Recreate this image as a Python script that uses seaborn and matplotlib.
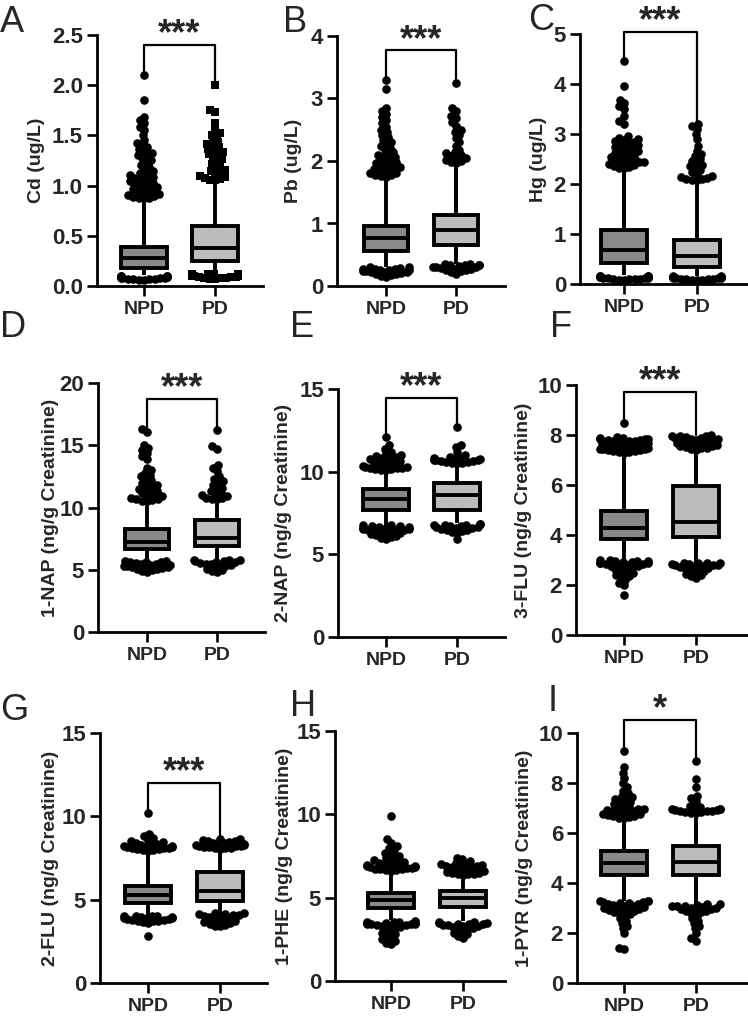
import warnings
import numpy as np
import pandas as pd
import matplotlib
matplotlib.use("Agg")
import matplotlib.pyplot as plt
import seaborn as sns

warnings.filterwarnings("ignore")

sns.set_theme(style="ticks")
plt.rcParams['font.family'] = ['Liberation Sans', 'DejaVu Sans']

GROUPS = ['NPD', 'PD']
letters = ['A', 'B', 'C', 'D', 'E', 'F', 'G', 'H', 'I']
ylabels = ['Cd (ug/L)', 'Pb (ug/L)', 'Hg (ug/L)',
           '1-NAP (ng/g Creatinine)', '2-NAP (ng/g Creatinine)', '3-FLU (ng/g Creatinine)',
           '2-FLU (ng/g Creatinine)', '1-PHE (ng/g Creatinine)', '1-PYR (ng/g Creatinine)']
y_tops = [2.5, 4, 5, 20, 15, 10, 15, 15, 10]
y_steps = [0.5, 1, 1, 5, 5, 2, 5, 5, 2]
stars = ['***', '***', '***', '***', '***', '***', '***', '', '*']
bracket_y = [2.40, 3.77, 5.04, 18.7, 14.46, 9.73, 12.0, None, 10.53]

# box stats: whisker low, q1, median, q3, whisker high
cd_npd_box = [0.11, 0.18, 0.28, 0.385, 0.875]
cd_pd_box = [0.15, 0.25, 0.375, 0.60, 1.06]
pb_npd_box = [0.31, 0.565, 0.76, 0.96, 1.75]
pb_pd_box = [0.36, 0.66, 0.90, 1.14, 1.97]
hg_npd_box = [0.18, 0.43, 0.69, 1.08, 2.30]
hg_pd_box = [0.17, 0.35, 0.56, 0.88, 2.06]
nap1_npd_box = [5.76, 6.64, 7.23, 8.30, 10.55]
nap1_pd_box = [5.80, 6.88, 7.58, 8.97, 10.70]
nap2_npd_box = [6.80, 7.70, 8.35, 8.95, 10.10]
nap2_pd_box = [6.90, 7.70, 8.61, 9.31, 10.50]
flu3_npd_box = [3.00, 3.84, 4.27, 4.96, 7.27]
flu3_pd_box = [2.90, 3.91, 4.53, 5.96, 7.40]
flu2_npd_box = [4.10, 4.80, 5.26, 5.84, 7.90]
flu2_pd_box = [4.10, 4.90, 5.50, 6.66, 8.00]
phe_npd_box = [3.64, 4.40, 4.88, 5.30, 6.60]
phe_pd_box = [3.60, 4.44, 4.98, 5.40, 6.30]
pyr_npd_box = [3.30, 4.31, 4.80, 5.27, 6.57]
pyr_pd_box = [3.20, 4.31, 4.83, 5.47, 6.80]

# points outside the whiskers (denser where the blobs are thick)
cd_npd_out = [2.10, 1.85, 1.68, 1.65, 1.62, 1.58, 1.55, 1.50, 1.45, 1.42, 1.40, 1.38, 1.36, 1.34,
              1.32, 1.30, 1.29, 1.27, 1.25, 1.23, 1.21, 1.19, 1.17, 1.15, 1.13, 1.12, 1.11, 1.10,
              1.09, 1.08, 1.07, 1.06, 1.05, 1.04, 1.03, 1.02, 1.01, 1.00, 0.99, 0.98, 0.97, 0.96,
              0.95, 0.94, 0.93, 0.92, 0.91, 0.90, 0.89, 0.88, 0.88, 0.88,
              0.10, 0.10, 0.095, 0.095, 0.09, 0.09, 0.085, 0.085, 0.08, 0.08, 0.075, 0.075, 0.07,
              0.07, 0.065, 0.065, 0.06, 0.06]
cd_pd_out = [2.00, 1.75, 1.73, 1.62, 1.55, 1.52, 1.50, 1.48, 1.45, 1.43, 1.41, 1.40, 1.38, 1.36,
             1.35, 1.33, 1.31, 1.30, 1.28, 1.26, 1.24, 1.22, 1.20, 1.18, 1.16, 1.15, 1.13, 1.12,
             1.10, 1.09, 1.08, 1.07, 1.06, 1.06,
             0.12, 0.12, 0.115, 0.115, 0.11, 0.11, 0.105, 0.10, 0.10, 0.095, 0.09, 0.09, 0.085,
             0.08, 0.08, 0.075, 0.07, 0.065]
pb_npd_out = [3.30, 3.15, 2.85, 2.80, 2.75, 2.70, 2.65, 2.60, 2.55, 2.50, 2.46, 2.42, 2.38, 2.34,
              2.30, 2.27, 2.24, 2.21, 2.18, 2.15, 2.12, 2.10, 2.08, 2.06, 2.04, 2.02, 2.00, 1.98,
              1.96, 1.95, 1.93, 1.92, 1.90, 1.89, 1.87, 1.86, 1.84, 1.83, 1.81, 1.80, 1.78, 1.77,
              1.76, 1.75,
              0.30, 0.30, 0.29, 0.28, 0.28, 0.27, 0.26, 0.26, 0.25, 0.24, 0.24, 0.23, 0.22, 0.22,
              0.21, 0.20, 0.19, 0.18, 0.16, 0.14]
pb_pd_out = [3.25, 2.85, 2.80, 2.72, 2.68, 2.62, 2.56, 2.50, 2.46, 2.42, 2.36, 2.30, 2.24, 2.18,
             2.14, 2.12, 2.10, 2.08, 2.06, 2.04, 2.02, 2.00, 1.99, 1.97,
             0.35, 0.35, 0.34, 0.34, 0.33, 0.33, 0.32, 0.31, 0.31, 0.30, 0.29, 0.28, 0.27, 0.26,
             0.25, 0.24, 0.22, 0.20]
hg_npd_out = [4.45, 3.95, 3.68, 3.62, 3.55, 3.50, 3.35, 3.25, 3.20, 2.95, 2.92, 2.90, 2.88, 2.86,
              2.84, 2.82, 2.80, 2.78, 2.76, 2.74, 2.72, 2.70, 2.68, 2.66, 2.64, 2.62, 2.60, 2.58,
              2.56, 2.54, 2.52, 2.50, 2.48, 2.46, 2.44, 2.43, 2.42, 2.41, 2.40, 2.38, 2.36, 2.34,
              2.32, 2.31,
              0.17, 0.17, 0.16, 0.16, 0.15, 0.15, 0.14, 0.14, 0.13, 0.13, 0.12, 0.12, 0.11, 0.11,
              0.10, 0.10, 0.09, 0.08]
hg_pd_out = [3.20, 3.15, 3.10, 3.00, 2.90, 2.75, 2.65, 2.60, 2.55, 2.50, 2.46, 2.42, 2.38, 2.35,
             2.32, 2.28, 2.24, 2.20, 2.16, 2.14, 2.12, 2.10, 2.09, 2.08, 2.07,
             0.16, 0.16, 0.15, 0.15, 0.14, 0.14, 0.13, 0.13, 0.12, 0.12, 0.11, 0.11, 0.10, 0.10,
             0.09, 0.09, 0.08]
nap1_npd_out = [16.3, 16.1, 15.0, 14.8, 14.6, 14.4, 14.1, 13.9, 13.2, 13.0, 12.8, 12.6, 12.5, 12.3,
                12.2, 12.0, 11.9, 11.8, 11.7, 11.6, 11.5, 11.4, 11.3, 11.2, 11.1, 11.0, 10.9,
                10.8, 10.7, 10.65, 10.6, 10.55, 10.55,
                5.7, 5.7, 5.65, 5.6, 5.6, 5.55, 5.5, 5.45, 5.4, 5.35, 5.3, 5.3, 5.25, 5.2, 5.2,
                5.15, 5.1, 5.05, 5.0, 4.9, 4.8]
nap1_pd_out = [16.2, 14.9, 14.7, 13.4, 13.2, 12.9, 12.5, 12.3, 12.1, 12.0, 11.8, 11.6, 11.5, 11.3,
               11.2, 11.1, 11.0, 10.9, 10.8, 10.75, 10.7, 10.7,
               5.8, 5.8, 5.75, 5.7, 5.7, 5.65, 5.6, 5.55, 5.5, 5.45, 5.4, 5.35, 5.3, 5.2, 5.1,
               5.0, 4.9, 4.8]
nap2_npd_out = [12.1, 11.6, 11.4, 11.2, 11.1, 11.0, 10.95, 10.9, 10.85, 10.8, 10.75, 10.7, 10.65,
                10.6, 10.55, 10.5, 10.45, 10.4, 10.35, 10.3, 10.28, 10.25, 10.22, 10.2, 10.18,
                10.15, 10.12, 10.1,
                6.75, 6.75, 6.7, 6.7, 6.65, 6.65, 6.6, 6.6, 6.55, 6.55, 6.5, 6.5, 6.45, 6.45, 6.4,
                6.35, 6.3, 6.25, 6.2, 6.15, 6.1, 6.05, 6.0, 5.9]
nap2_pd_out = [12.7, 11.6, 11.5, 11.2, 11.0, 10.9, 10.85, 10.8, 10.78, 10.75, 10.72, 10.7, 10.68,
               10.65, 10.62, 10.6, 10.58, 10.55, 10.52, 10.5,
               6.85, 6.85, 6.8, 6.8, 6.75, 6.7, 6.7, 6.65, 6.65, 6.6, 6.6, 6.55, 6.5, 6.45, 6.4,
               6.35, 6.3, 5.9]
flu3_npd_out = [8.5, 7.92, 7.9, 7.88, 7.86, 7.85, 7.83, 7.82, 7.8, 7.78, 7.76, 7.75, 7.73, 7.7,
                7.68, 7.66, 7.65, 7.62, 7.6, 7.58, 7.56, 7.55, 7.53, 7.5, 7.48, 7.46, 7.45, 7.43,
                7.42, 7.4, 7.38, 7.36, 7.34, 7.32, 7.3,
                3.0, 3.0, 2.98, 2.97, 2.95, 2.93, 2.92, 2.9, 2.88, 2.87, 2.85, 2.83, 2.82, 2.8,
                2.78, 2.75, 2.72, 2.7, 2.65, 2.6, 2.55, 2.5, 2.45, 2.4, 2.35, 2.3, 2.2, 2.1, 2.0,
                1.6]
flu3_pd_out = [8.0, 7.98, 7.96, 7.95, 7.93, 7.9, 7.88, 7.86, 7.85, 7.82, 7.8, 7.78, 7.75, 7.72,
               7.7, 7.68, 7.65, 7.62, 7.6, 7.58, 7.55, 7.52, 7.5, 7.48, 7.45, 7.42,
               2.9, 2.9, 2.88, 2.87, 2.85, 2.84, 2.82, 2.8, 2.79, 2.77, 2.75, 2.73, 2.7, 2.68,
               2.65, 2.6, 2.55, 2.5, 2.45, 2.4, 2.35, 2.3]
flu2_npd_out = [10.2, 8.95, 8.8, 8.7, 8.6, 8.5, 8.45, 8.4, 8.35, 8.3, 8.28, 8.25, 8.22, 8.2, 8.18,
                8.15, 8.12, 8.1, 8.08, 8.05, 8.02, 8.0, 7.98, 7.95,
                4.05, 4.05, 4.0, 4.0, 3.97, 3.95, 3.92, 3.9, 3.88, 3.85, 3.82, 3.8, 3.78, 3.75,
                3.72, 3.7, 3.65, 3.6, 2.85]
flu2_pd_out = [8.65, 8.62, 8.6, 8.55, 8.5, 8.45, 8.4, 8.38, 8.35, 8.32, 8.3, 8.28, 8.25, 8.22, 8.2,
               8.18, 8.15, 8.12, 8.1, 8.08, 8.05,
               4.2, 4.18, 4.15, 4.12, 4.1, 4.08, 4.05, 4.0, 3.95, 3.9, 3.85, 3.8, 3.75, 3.7, 3.65,
               3.6, 3.55, 3.5, 3.45, 3.4]
phe_npd_out = [9.9, 8.5, 8.3, 8.1, 8.0, 7.85, 7.7, 7.6, 7.5, 7.4, 7.3, 7.25, 7.2, 7.15, 7.1, 7.05,
               7.0, 6.98, 6.95, 6.92, 6.9, 6.88, 6.85, 6.82, 6.8, 6.78, 6.75, 6.72, 6.7, 6.68,
               6.65, 6.62,
               3.58, 3.56, 3.55, 3.53, 3.5, 3.48, 3.47, 3.45, 3.43, 3.42, 3.4, 3.38, 3.35, 3.32,
               3.3, 3.25, 3.2, 3.1, 3.0, 2.9, 2.8, 2.7, 2.6, 2.5, 2.4, 2.3, 2.2]
phe_pd_out = [7.4, 7.3, 7.2, 7.1, 7.05, 7.0, 6.98, 6.95, 6.92, 6.9, 6.85, 6.8, 6.75, 6.7, 6.65,
              6.6, 6.55, 6.5, 6.47, 6.45, 6.42, 6.4, 6.35,
              3.55, 3.53, 3.5, 3.48, 3.45, 3.42, 3.4, 3.38, 3.35, 3.32, 3.3, 3.25, 3.2, 3.15, 3.1,
              3.0, 2.9, 2.8, 2.7, 2.6]
pyr_npd_out = [9.3, 8.65, 8.4, 8.2, 8.0, 7.85, 7.7, 7.6, 7.5, 7.45, 7.4, 7.35, 7.3, 7.25, 7.2,
               7.15, 7.1, 7.05, 7.0, 6.98, 6.95, 6.92, 6.9, 6.88, 6.85, 6.82, 6.8, 6.78, 6.75,
               6.72, 6.7, 6.68, 6.65, 6.62, 6.6,
               3.3, 3.28, 3.27, 3.25, 3.23, 3.22, 3.2, 3.18, 3.15, 3.12, 3.1, 3.08, 3.05, 3.02,
               3.0, 2.98, 2.95, 2.92, 2.9, 2.88, 2.85, 2.8, 2.75, 2.7, 2.6, 2.5, 2.4, 2.3, 2.2,
               2.0, 1.4, 1.35]
pyr_pd_out = [8.9, 8.15, 7.85, 7.5, 7.4, 7.3, 7.1, 7.05, 7.0, 6.98, 6.96, 6.95, 6.93, 6.92, 6.9,
              6.88, 6.87, 6.85, 6.83, 6.82, 6.8,
              3.15, 3.15, 3.12, 3.1, 3.1, 3.08, 3.05, 3.02, 3.0, 2.98, 2.95, 2.92, 2.9, 2.87,
              2.85, 2.8, 2.7, 2.6, 2.5, 2.4, 2.3, 2.2, 2.0, 1.8, 1.7]

box_stats = [(cd_npd_box, cd_pd_box), (pb_npd_box, pb_pd_box), (hg_npd_box, hg_pd_box),
             (nap1_npd_box, nap1_pd_box), (nap2_npd_box, nap2_pd_box), (flu3_npd_box, flu3_pd_box),
             (flu2_npd_box, flu2_pd_box), (phe_npd_box, phe_pd_box), (pyr_npd_box, pyr_pd_box)]
outliers = [(cd_npd_out, cd_pd_out), (pb_npd_out, pb_pd_out), (hg_npd_out, hg_pd_out),
            (nap1_npd_out, nap1_pd_out), (nap2_npd_out, nap2_pd_out), (flu3_npd_out, flu3_pd_out),
            (flu2_npd_out, flu2_pd_out), (phe_npd_out, phe_pd_out), (pyr_npd_out, pyr_pd_out)]

# layout in pixels: axis left, axis right, top tick, zero line, NPD x, PD x
W, H = 748, 1016
layout = [(97, 263, 35, 286, 144, 215), (337, 505, 36, 286, 386, 456), (580, 748, 34, 284, 624, 697),
          (98, 265, 383, 632, 147, 217), (338, 505, 389, 637, 386, 457), (576, 748, 385, 635, 624, 696),
          (100, 267, 733, 983, 148, 220), (335, 505, 731, 981, 391, 463), (577, 748, 733, 983, 624, 696)]
ylabel_x = [36, 293, 538, 50, 283, 523, 50, 284, 524]   # centre of the rotated label, px
letter_pos = [(0, 5), (283, 5), (528, 3), (0, 310), (290, 310), (550, 310), (0, 693), (290, 689), (548, 684)]

box_colors = ['#898989', '#bcbcbc']
SWARM_SIZE = 3.7   # spacing used to lay out the swarm
DOT_SIZE = 6.2     # drawn size, so neighbouring dots overlap like the original
BAND = 0.33        # half width of the point bands

fig = plt.figure(figsize=(W / 100, H / 100), dpi=100)
axes = []

for i in range(9):
    L, R, T, B, xn, xp = layout[i]
    ax = fig.add_axes([L / W, 1 - B / H, (R - L) / W, (B - T) / H])
    axes.append(ax)
    u = xp - xn
    xlim = ((L - xn) / u, 1 + (R - xp) / u)
    ax.set_xlim(*xlim)
    ax.set_ylim(0, y_tops[i])

    df = pd.DataFrame({
        'group': ['NPD'] * len(outliers[i][0]) + ['PD'] * len(outliers[i][1]),
        'value': outliers[i][0] + outliers[i][1],
    })
    for grp in GROUPS:
        marker = 's' if (i == 0 and grp == 'PD') else 'o'
        sns.swarmplot(data=df[df['group'] == grp], x='group', y='value', order=GROUPS,
                      color='black', size=SWARM_SIZE, marker=marker, ax=ax, zorder=3,
                      clip_on=False, linewidth=0)

    stats = []
    for g in range(2):
        lo, q1, med, q3, hi = box_stats[i][g]
        stats.append({'whislo': lo, 'q1': q1, 'med': med, 'q3': q3, 'whishi': hi, 'fliers': []})
    bp = ax.bxp(stats, positions=[0, 1], widths=0.64, patch_artist=True, showcaps=False,
                showfliers=False, manage_ticks=False,
                boxprops=dict(linewidth=2.8, edgecolor='black'),
                whiskerprops=dict(linewidth=2.8, color='black', solid_capstyle='butt'),
                medianprops=dict(linewidth=2.8, color='black', solid_capstyle='butt'))
    for patch, c in zip(bp['boxes'], box_colors):
        patch.set_facecolor(c)
        patch.set_zorder(4)
    for line in bp['medians']:
        line.set_zorder(5)

    ax.set_xlim(*xlim)
    ax.set_ylim(0, y_tops[i])
    ax.set_xticks([0, 1])
    ax.set_xticklabels(GROUPS)
    ax.set_yticks(np.arange(0, y_tops[i] + 1e-9, y_steps[i]))
    if i == 0:
        ax.set_yticklabels([f'{v:.1f}' for v in ax.get_yticks()])
    else:
        ax.set_yticklabels([f'{v:.0f}' for v in ax.get_yticks()])
    ax.set_xlabel('')
    ax.set_ylabel(ylabels[i], fontsize=14, fontweight='bold')
    # label anchor is the descent side of the rotated text, about 9 px right of its centre
    ax.yaxis.set_label_coords((ylabel_x[i] + 9 - L) / (R - L), 0.5)
    for lab in ax.get_xticklabels():
        lab.set_fontweight('bold')
        lab.set_fontsize(14)
    for lab in ax.get_yticklabels():
        lab.set_fontweight('bold')
        lab.set_fontsize(16)
    ax.tick_params(length=7, width=1.9, color='black')
    ax.tick_params(axis='x', pad=4)
    ax.tick_params(axis='y', pad=3)
    sns.despine(ax=ax)
    for s in ['left', 'bottom']:
        ax.spines[s].set_linewidth(2.0)
        ax.spines[s].set_color('black')
    ax.patch.set_alpha(0)

    # significance bracket, legs running down to the highest point of each group
    if bracket_y[i] is not None:
        by = bracket_y[i]
        ax.plot([0, 0, 1, 1], [max(outliers[i][0]), by, by, max(outliers[i][1])],
                color='black', lw=1.6, clip_on=False, zorder=2)
        ax.annotate(stars[i], xy=(0.5, by), xytext=(0, 0.5), textcoords='offset points',
                    ha='center', va='baseline', fontsize=26, fontweight='bold',
                    annotation_clip=False)

    fig.text(letter_pos[i][0] / W, 1 - letter_pos[i][1] / H, letters[i], fontsize=26,
             ha='left', va='top')

# lay out the swarms once with the tight spacing, then freeze them and enlarge the dots
fig.canvas.draw()
for ax in axes:
    for coll in ax.collections:
        if 'draw' in coll.__dict__:
            del coll.draw
        off = coll.get_offsets()
        if len(off):
            center = np.round(np.median(off[:, 0]))
            off[:, 0] = np.clip(off[:, 0], center - BAND, center + BAND)
            coll.set_offsets(off)
            coll.set_sizes([DOT_SIZE ** 2])

fig.savefig('out.png', dpi=100)
